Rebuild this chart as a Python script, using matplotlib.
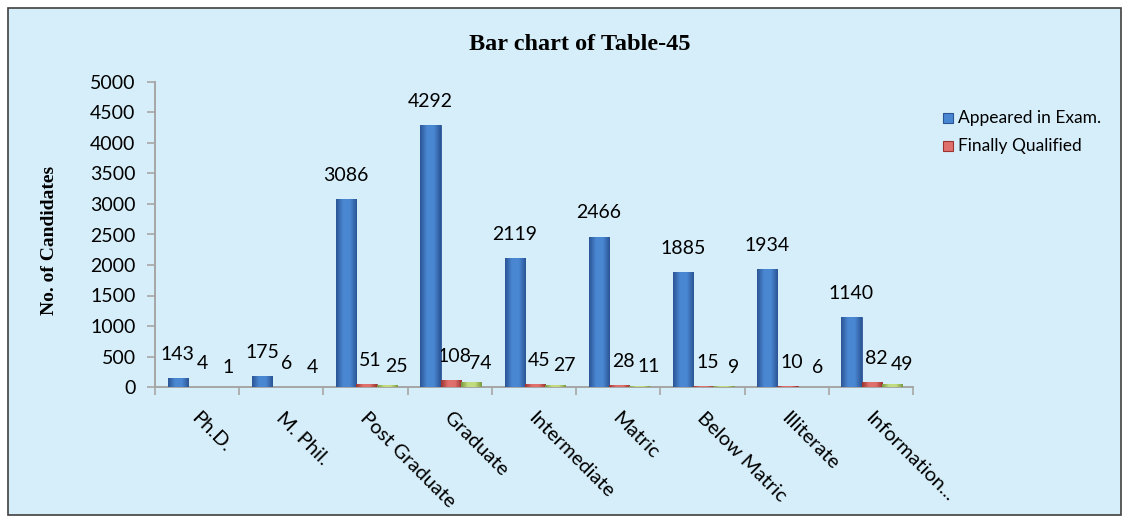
import numpy as np
import matplotlib
matplotlib.use('Agg')
import matplotlib.pyplot as plt
from matplotlib.patches import Rectangle
from matplotlib.colors import LinearSegmentedColormap

categories = ['Ph.D.', 'M. Phil.', 'Post Graduate', 'Graduate', 'Intermediate',
              'Matric', 'Below Matric', 'Illiterate', 'Information...']
appeared = [143, 175, 3086, 4292, 2119, 2466, 1885, 1934, 1140]
qualified = [4, 6, 51, 108, 45, 28, 15, 10, 82]
third = [1, 4, 25, 74, 27, 11, 9, 6, 49]
yticks = [0, 500, 1000, 1500, 2000, 2500, 3000, 3500, 4000, 4500, 5000]

bg = '#d6eef9'
axcol = '#a6a6a6'
series_cols = [('#2a5595', '#4a87d2', '#2a5595'),
               ('#9c3432', '#e0706c', '#9c3432'),
               ('#7a9a40', '#c2dc80', '#7a9a40')]

fig = plt.figure(figsize=(11.3, 5.23), dpi=100)
fig.patch.set_facecolor('white')
fig.patches.append(Rectangle((8/1130, 8/523), 1113/1130, 507/523, transform=fig.transFigure,
                             facecolor=bg, edgecolor='#404040', linewidth=1.2, zorder=-10))

ax = fig.add_axes([155/1130, 136/523, 758/1130, 305/523])
ax.set_facecolor('none')

x = np.arange(len(categories))
w = 0.24
xb = x + 0.15 + w/2
xr = xb + w
xg = xr + w

grad = np.linspace(0, 1, 64).reshape(1, -1)
for xs, vals, cols in [(xb, appeared, series_cols[0]), (xr, qualified, series_cols[1]),
                       (xg, third, series_cols[2])]:
    cmap = LinearSegmentedColormap.from_list('g', [cols[0], cols[1], cols[1], cols[2]])
    bars = ax.bar(xs, vals, w, color=cols[1], edgecolor=cols[0], linewidth=0.6, zorder=3)
    for b in bars:
        im = ax.imshow(grad, cmap=cmap, aspect='auto', zorder=3.5,
                       extent=[b.get_x(), b.get_x() + b.get_width(), 0, b.get_height()])
        im.set_clip_path(b)

lab = dict(family='Lato', fontsize=14, color='black', ha='center', va='center')
for i in range(len(categories)):
    ax.annotate(str(appeared[i]), (xb[i], appeared[i]), xytext=(0, 17),
                textcoords='offset points', **lab)
    ax.annotate(str(qualified[i]), (xr[i], qualified[i]), xytext=(3, 17),
                textcoords='offset points', **lab)
    ax.annotate(str(third[i]), (xg[i], third[i]), xytext=(7, 14),
                textcoords='offset points', **lab)

ax.set_xlim(0, len(categories))
ax.set_ylim(0, 5000)
ax.set_yticks(yticks)
ax.set_yticklabels([str(v) for v in yticks], family='Lato', fontsize=14)
ax.set_xticks(np.arange(len(categories) + 1))
ax.set_xticklabels([])
ax.tick_params(axis='y', length=6, color=axcol, width=1.2, pad=8)
ax.tick_params(axis='x', length=6, color=axcol, width=1.2, direction='out')
for s in ['top', 'right']:
    ax.spines[s].set_visible(False)
for s in ['left', 'bottom']:
    ax.spines[s].set_color(axcol)
    ax.spines[s].set_linewidth(1.4)

for i, c in enumerate(categories):
    ax.annotate(c, (i + 0.5, 0), xytext=(-2, -20), textcoords='offset points',
                rotation=-45, rotation_mode='anchor', ha='left', va='center',
                family='Lato', fontsize=14.5)

fig.text(580/1130, 1 - 44/523, 'Bar chart of Table-45', family='Liberation Serif',
         fontweight='bold', fontsize=17.5, ha='center', va='center')
fig.text(50/1130, 1 - 240/523, 'No. of Candidates', family='Liberation Serif',
         fontweight='bold', fontsize=14, rotation=90, ha='center', va='center')

# legend (third series entry is cut off in the original)
for j, (name, cols) in enumerate([('Appeared in Exam.', series_cols[0]),
                                  ('Finally Qualified', series_cols[1])]):
    yy = 1 - (118 + 28*j)/523
    fig.patches.append(Rectangle((943/1130, yy - 5/523), 10/1130, 10/523,
                                 transform=fig.transFigure, facecolor=cols[1],
                                 edgecolor=cols[0], linewidth=0.8))
    fig.text(958/1130, yy, name, family='Lato', fontsize=12.5, ha='left', va='center')

fig.savefig('out.png', dpi=100, facecolor=fig.get_facecolor())
